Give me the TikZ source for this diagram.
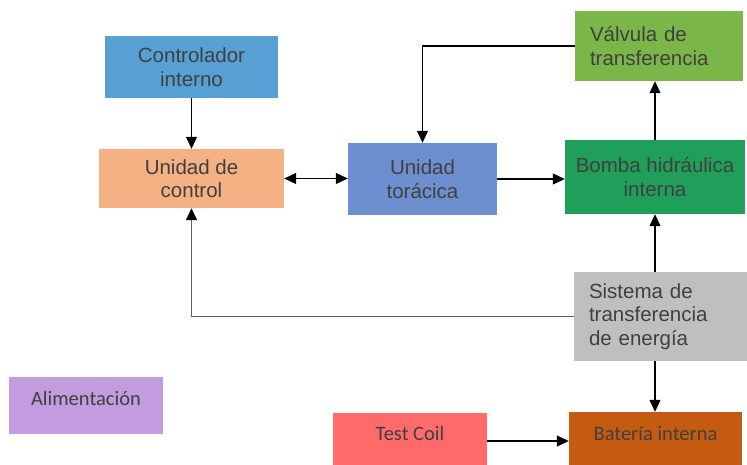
\documentclass[tikz,border=0pt]{standalone}
\usepackage{fontspec}
\setmainfont{Liberation Sans}
\newfontfamily\calfont{Carlito}
\usetikzlibrary{arrows.meta}

\definecolor{txtgray}{HTML}{404040}
\definecolor{cctrl}{HTML}{56A0D3}
\definecolor{cunid}{HTML}{F4B183}
\definecolor{ctorac}{HTML}{6E8FCF}
\definecolor{cvalv}{HTML}{7AB648}
\definecolor{cbomba}{HTML}{1F9F5A}
\definecolor{csist}{HTML}{BFBFBF}
\definecolor{calim}{HTML}{C39BDF}
\definecolor{ctest}{HTML}{FF6A6A}
\definecolor{cbat}{HTML}{C55A11}

\begin{document}
\begin{tikzpicture}[x=1pt,y=-1pt,
    blk/.style={inner sep=0pt, text=txtgray, align=center,
        font=\fontsize{20.5}{23.5}\selectfont},
    calbox/.style={blk, font=\calfont\fontsize{20.5}{23.5}\selectfont,
        text height=13pt, text depth=14pt},
    tip/.tip={Triangle[length=12pt,width=11pt,color=black]},
    arr/.style={line width=1.1pt, -tip}]
    \useasboundingbox (0,0) rectangle (747,465);

    % blocks
    \node[blk, fill=cctrl, minimum width=173pt, minimum height=62pt]
        (controlador) at (191.5,67) {Controlador\\interno};
    \node[blk, fill=cunid, minimum width=185pt, minimum height=59pt]
        (control) at (191.5,178.5) {Unidad de\\control};
    \node[blk, fill=ctorac, minimum width=149pt, minimum height=72pt]
        (toracica) at (422.5,179) {Unidad\\tor\'acica};
    \node[blk, fill=cvalv, align=left, text width=138pt, inner xsep=15pt,
        minimum height=70pt] (valvula) at (659,46) {V\'alvula de\\transferencia};
    \node[blk, fill=cbomba, minimum width=180pt, minimum height=74pt]
        (bomba) at (655,177) {Bomba hidr\'aulica\\interna};
    \node[blk, fill=csist, align=left, text width=143pt, inner xsep=15pt,
        minimum height=89pt] (sistema) at (660.5,316.5)
        {Sistema de\\transferencia\\de energ\'ia};
    \node[calbox, fill=calim, minimum width=154pt, minimum height=57pt]
        (alimentacion) at (86,405.5) {Alimentaci\'on};
    \node[calbox, fill=ctest, minimum width=154pt, minimum height=56pt]
        (testcoil) at (410,441) {Test Coil};
    \node[calbox, fill=cbat, minimum width=173pt, minimum height=58pt]
        (bateria) at (655.5,441) {Bater\'ia interna};

    % connectors
    \draw[arr] (controlador.south) -- (control.north);
    \draw[arr, tip-tip] (control.east) -- (control.east -| toracica.west);
    \draw[arr] (toracica.east) -- (toracica.east -| bomba.west);
    \draw[arr] (valvula.west) -| (toracica.north);
    \draw[arr] (bomba.north) -- (bomba.north |- valvula.south);
    \draw[arr] (bomba.south |- sistema.north) -- (bomba.south);
    \draw[arr, draw=black!62, line width=1.5pt] (sistema.west) -| (control.south);
    \draw[arr] (bomba.south |- sistema.south) -- (bomba.south |- bateria.north);
    \draw[arr] (testcoil.east) -- (testcoil.east -| bateria.west);
\end{tikzpicture}
\end{document}
